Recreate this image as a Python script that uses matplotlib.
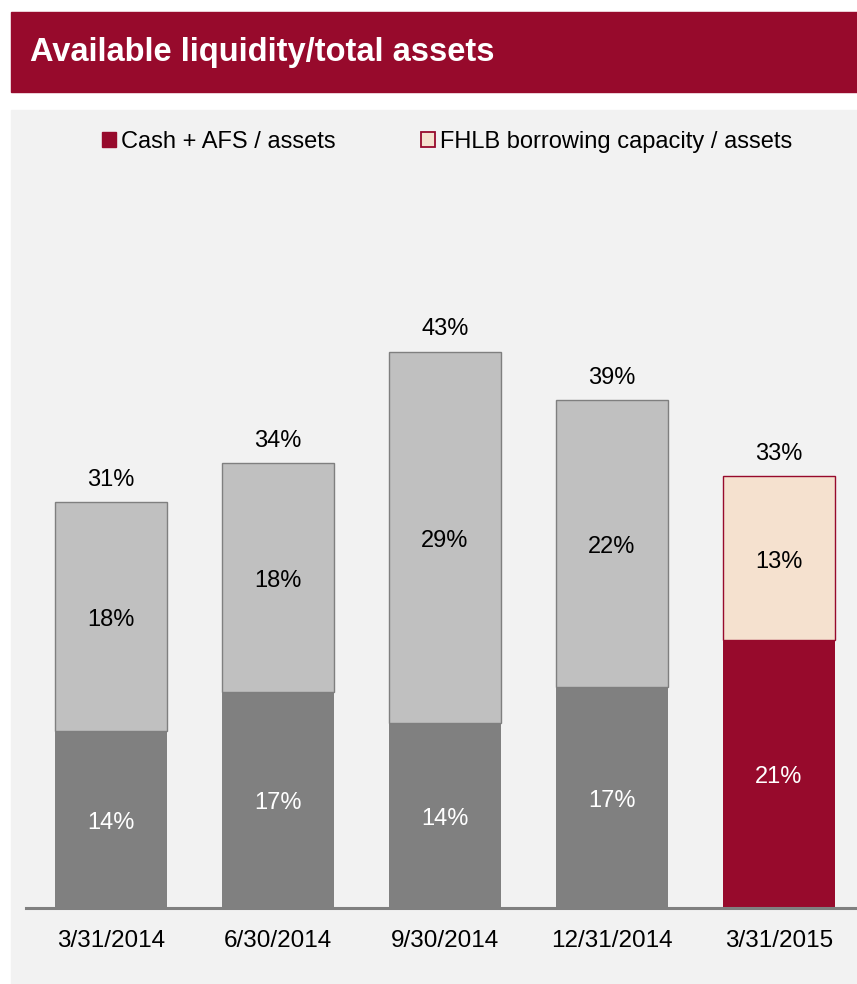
import matplotlib.pyplot as plt
from matplotlib.patches import Patch, Rectangle

plt.rcParams['font.family'] = ['Liberation Sans', 'DejaVu Sans']

dates = ['3/31/2014', '6/30/2014', '9/30/2014', '12/31/2014', '3/31/2015']
cash_afs = [13.6, 16.6, 14.2, 17.0, 20.6]
fhlb = [17.6, 17.6, 28.6, 22.1, 12.6]

RED = '#970A2C'
bottom_colors = ['#808080'] * 4 + [RED]
top_colors = ['#C0C0C0'] * 4 + ['#F5E1CF']
top_edges = ['#7F7F7F'] * 4 + [RED]

W, H = 857, 984
fig = plt.figure(figsize=(W / 100, H / 100), dpi=100)

# background panel and title banner
fig.patches.append(Rectangle((11 / W, 0), 1, 1 - 110 / H, transform=fig.transFigure,
                             color='#F2F2F2', zorder=-2))
fig.patches.append(Rectangle((11 / W, 1 - 92 / H), 1, 80 / H, transform=fig.transFigure,
                             color=RED, zorder=-1))
fig.text(30 / W, 1 - 53 / H, 'Available liquidity/total assets', color='white',
         fontsize=23.5, fontweight='bold', va='center', ha='left')

ax = fig.add_axes([26 / W, 76 / H, 1 - 26 / W, (908 - 170) / H])
ax.set_facecolor('none')
x = range(len(dates))
totals = [a + b for a, b in zip(cash_afs, fhlb)]

ax.bar(x, cash_afs, width=0.67, color=bottom_colors, zorder=2)
ax.bar(x, fhlb, bottom=cash_afs, width=0.67, color=top_colors,
       edgecolor=top_edges, linewidth=1.0, zorder=2)

for i in x:
    ax.text(i, cash_afs[i] / 2 - 0.25, f'{cash_afs[i]:.0f}%', ha='center', va='center',
            color='white', fontsize=17)
    ax.text(i, cash_afs[i] + fhlb[i] / 2 - 0.25, f'{fhlb[i]:.0f}%', ha='center',
            va='center', color='black', fontsize=17)
    ax.text(i, totals[i] + 1.7, f'{totals[i]:.0f}%', ha='center', va='center',
            color='black', fontsize=17)

ax.set_xlim(-(111 - 26) / 167, (857 - 111) / 167)
ax.set_ylim(0, (908 - 170) / 13)
ax.set_xticks(list(x))
ax.set_xticklabels(dates, fontsize=17.5)
ax.tick_params(axis='x', length=0, pad=16)
ax.set_yticks([])
for s in ['top', 'left', 'right']:
    ax.spines[s].set_visible(False)
ax.spines['bottom'].set_color('#808080')
ax.spines['bottom'].set_linewidth(2.2)

handles = [Patch(facecolor=RED, edgecolor=RED, label='Cash + AFS / assets'),
           Patch(facecolor='#F5E1CF', edgecolor=RED, linewidth=1.3,
                 label='FHLB borrowing capacity / assets')]
fig.legend(handles=handles, loc='center', bbox_to_anchor=(447 / W, 1 - 142 / H),
           ncol=2, frameon=False, fontsize=17, handlelength=0.6, handleheight=0.6,
           handletextpad=0.2, columnspacing=3.6)

fig.savefig('out.png', dpi=100)
